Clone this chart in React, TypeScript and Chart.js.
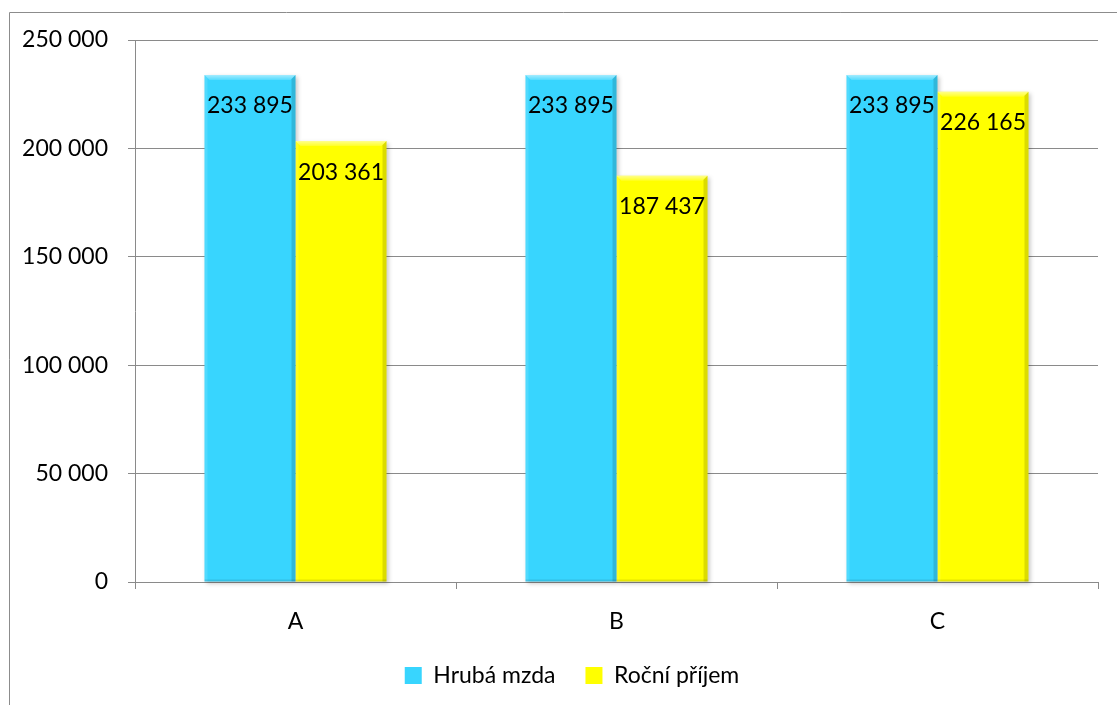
import React, { useEffect, useRef } from "react";
import { Chart, registerables } from "chart.js";

Chart.register(...registerables);

// Categories and series
const categories = ["A", "B", "C"];
const grossWage = [233895, 233895, 233895];
const annualIncome = [203361, 187437, 226165];
const seriesNames = ["Hrubá mzda", "Roční příjem"];
const seriesColors = ["#38d5fe", "#ffff00"];
const yTicks = [0, 50000, 100000, 150000, 200000, 250000];

const FONT = "Lato, 'Open Sans', sans-serif";
const GRID = "#8a8a8a";

const fmt = (v: number) => String(Math.round(v)).replace(/\B(?=(\d{3})+(?!\d))/g, " ");

// Outer chart frame (left and top edges run off the page)
const framePlugin = {
  id: "frame",
  beforeDraw(chart: any) {
    const ctx = chart.ctx;
    ctx.save();
    ctx.strokeStyle = "#8c8c8c";
    ctx.lineWidth = 1;
    ctx.beginPath();
    ctx.moveTo(9.5, chart.height + 5);
    ctx.lineTo(9.5, 12.5);
    ctx.lineTo(chart.width + 5, 12.5);
    ctx.stroke();
    ctx.restore();
  },
};

// Nudge the legend block slightly right of the canvas centre
const legendShiftPlugin = {
  id: "legendShift",
  afterLayout(chart: any) {
    const lg = chart.legend;
    if (lg) {
      lg.left += 23;
      lg.right += 23;
    }
  },
};

// Soft drop shadow behind each bar
const shadowPlugin = {
  id: "barShadow",
  beforeDatasetsDraw(chart: any) {
    const ctx = chart.ctx;
    ctx.save();
    ctx.filter = "blur(2px)";
    ctx.fillStyle = "rgba(0,0,0,0.22)";
    chart.data.datasets.forEach((_: any, di: number) => {
      chart.getDatasetMeta(di).data.forEach((bar: any) => {
        const p = bar.getProps(["x", "y", "base", "width"], true);
        const l = p.x - p.width / 2;
        ctx.fillRect(l + 2, p.y + 2, p.width, p.base - p.y);
      });
    });
    ctx.restore();
  },
};

// Bevelled edges and value labels on each bar
const bevelPlugin = {
  id: "bevel",
  afterDatasetsDraw(chart: any) {
    const ctx = chart.ctx;
    const b = 5;
    ctx.save();
    chart.data.datasets.forEach((ds: any, di: number) => {
      chart.getDatasetMeta(di).data.forEach((bar: any, i: number) => {
        const p = bar.getProps(["x", "y", "base", "width"], true);
        const l = p.x - p.width / 2;
        const r = p.x + p.width / 2;
        const t = p.y;
        const bt = p.base;
        // top highlight
        const g = ctx.createLinearGradient(0, t, 0, t + b);
        g.addColorStop(0, "rgba(255,255,255,0.55)");
        g.addColorStop(1, "rgba(255,255,255,0.15)");
        ctx.fillStyle = g;
        ctx.beginPath();
        ctx.moveTo(l, t);
        ctx.lineTo(r, t);
        ctx.lineTo(r - b, t + b);
        ctx.lineTo(l + b, t + b);
        ctx.closePath();
        ctx.fill();
        // right shade
        ctx.fillStyle = "rgba(0,0,0,0.14)";
        ctx.beginPath();
        ctx.moveTo(r, t);
        ctx.lineTo(r, bt);
        ctx.lineTo(r - 4, bt);
        ctx.lineTo(r - 4, t + 4);
        ctx.closePath();
        ctx.fill();
        // left light edge
        ctx.fillStyle = "rgba(255,255,255,0.12)";
        ctx.beginPath();
        ctx.moveTo(l, t);
        ctx.lineTo(l + 3, t + 3);
        ctx.lineTo(l + 3, bt);
        ctx.lineTo(l, bt);
        ctx.closePath();
        ctx.fill();
        // bottom shade
        ctx.fillStyle = "rgba(0,0,0,0.10)";
        ctx.fillRect(l, bt - 2, p.width, 2);
        // value label
        ctx.fillStyle = "#000";
        ctx.font = `23px ${FONT}`;
        ctx.textAlign = "center";
        ctx.textBaseline = "middle";
        ctx.fillText(fmt(ds.data[i]), p.x, t + 31);
      });
    });
    ctx.restore();
  },
};

export default function App() {
  const ref = useRef<HTMLCanvasElement>(null);

  useEffect(() => {
    document.body.style.margin = "0";
    const chart = new Chart(ref.current as HTMLCanvasElement, {
      type: "bar",
      data: {
        labels: categories,
        datasets: [
          {
            label: seriesNames[0],
            data: grossWage,
            backgroundColor: seriesColors[0],
            borderWidth: 0,
            barPercentage: 1,
            categoryPercentage: 0.567,
          },
          {
            label: seriesNames[1],
            data: annualIncome,
            backgroundColor: seriesColors[1],
            borderWidth: 0,
            barPercentage: 1,
            categoryPercentage: 0.567,
          },
        ],
      },
      options: {
        responsive: false,
        animation: false,
        devicePixelRatio: 1,
        layout: { padding: { left: 0, top: 40, right: 19, bottom: 8 } },
        plugins: {
          tooltip: { enabled: false },
          legend: {
            position: "bottom",
            labels: {
              font: { family: FONT, size: 23 },
              color: "#000",
              boxWidth: 17,
              boxHeight: 17,
              padding: 30,
            },
          },
        },
        scales: {
          x: {
            grid: {
              display: true,
              drawOnChartArea: false,
              drawTicks: true,
              tickLength: 7,
              color: GRID,
              offset: true,
            },
            border: { display: true, color: GRID, width: 1 },
            ticks: {
              font: { family: FONT, size: 23 },
              color: "#000",
              padding: 19,
            },
            afterFit(scale: any) {
              scale.height = 52;
            },
          },
          y: {
            min: 0,
            max: 250000,
            afterBuildTicks(scale: any) {
              scale.ticks = yTicks.map((v) => ({ value: v }));
            },
            grid: {
              color: GRID,
              lineWidth: 1,
              drawTicks: true,
              tickLength: 7,
            },
            border: { display: true, color: GRID, width: 1 },
            ticks: {
              font: { family: FONT, size: 23 },
              color: "#000",
              padding: 20,
              callback: (v: any) => fmt(Number(v)),
            },
            afterFit(scale: any) {
              scale.width = 135;
            },
          },
        },
      },
      plugins: [framePlugin, legendShiftPlugin, shadowPlugin, bevelPlugin],
    });
    return () => chart.destroy();
  }, []);

  return (
    <div style={{ position: "fixed", left: 0, top: 0, width: 1117, height: 705, background: "#fff" }}>
      <canvas ref={ref} width={1117} height={705} style={{ display: "block" }} />
    </div>
  );
}
